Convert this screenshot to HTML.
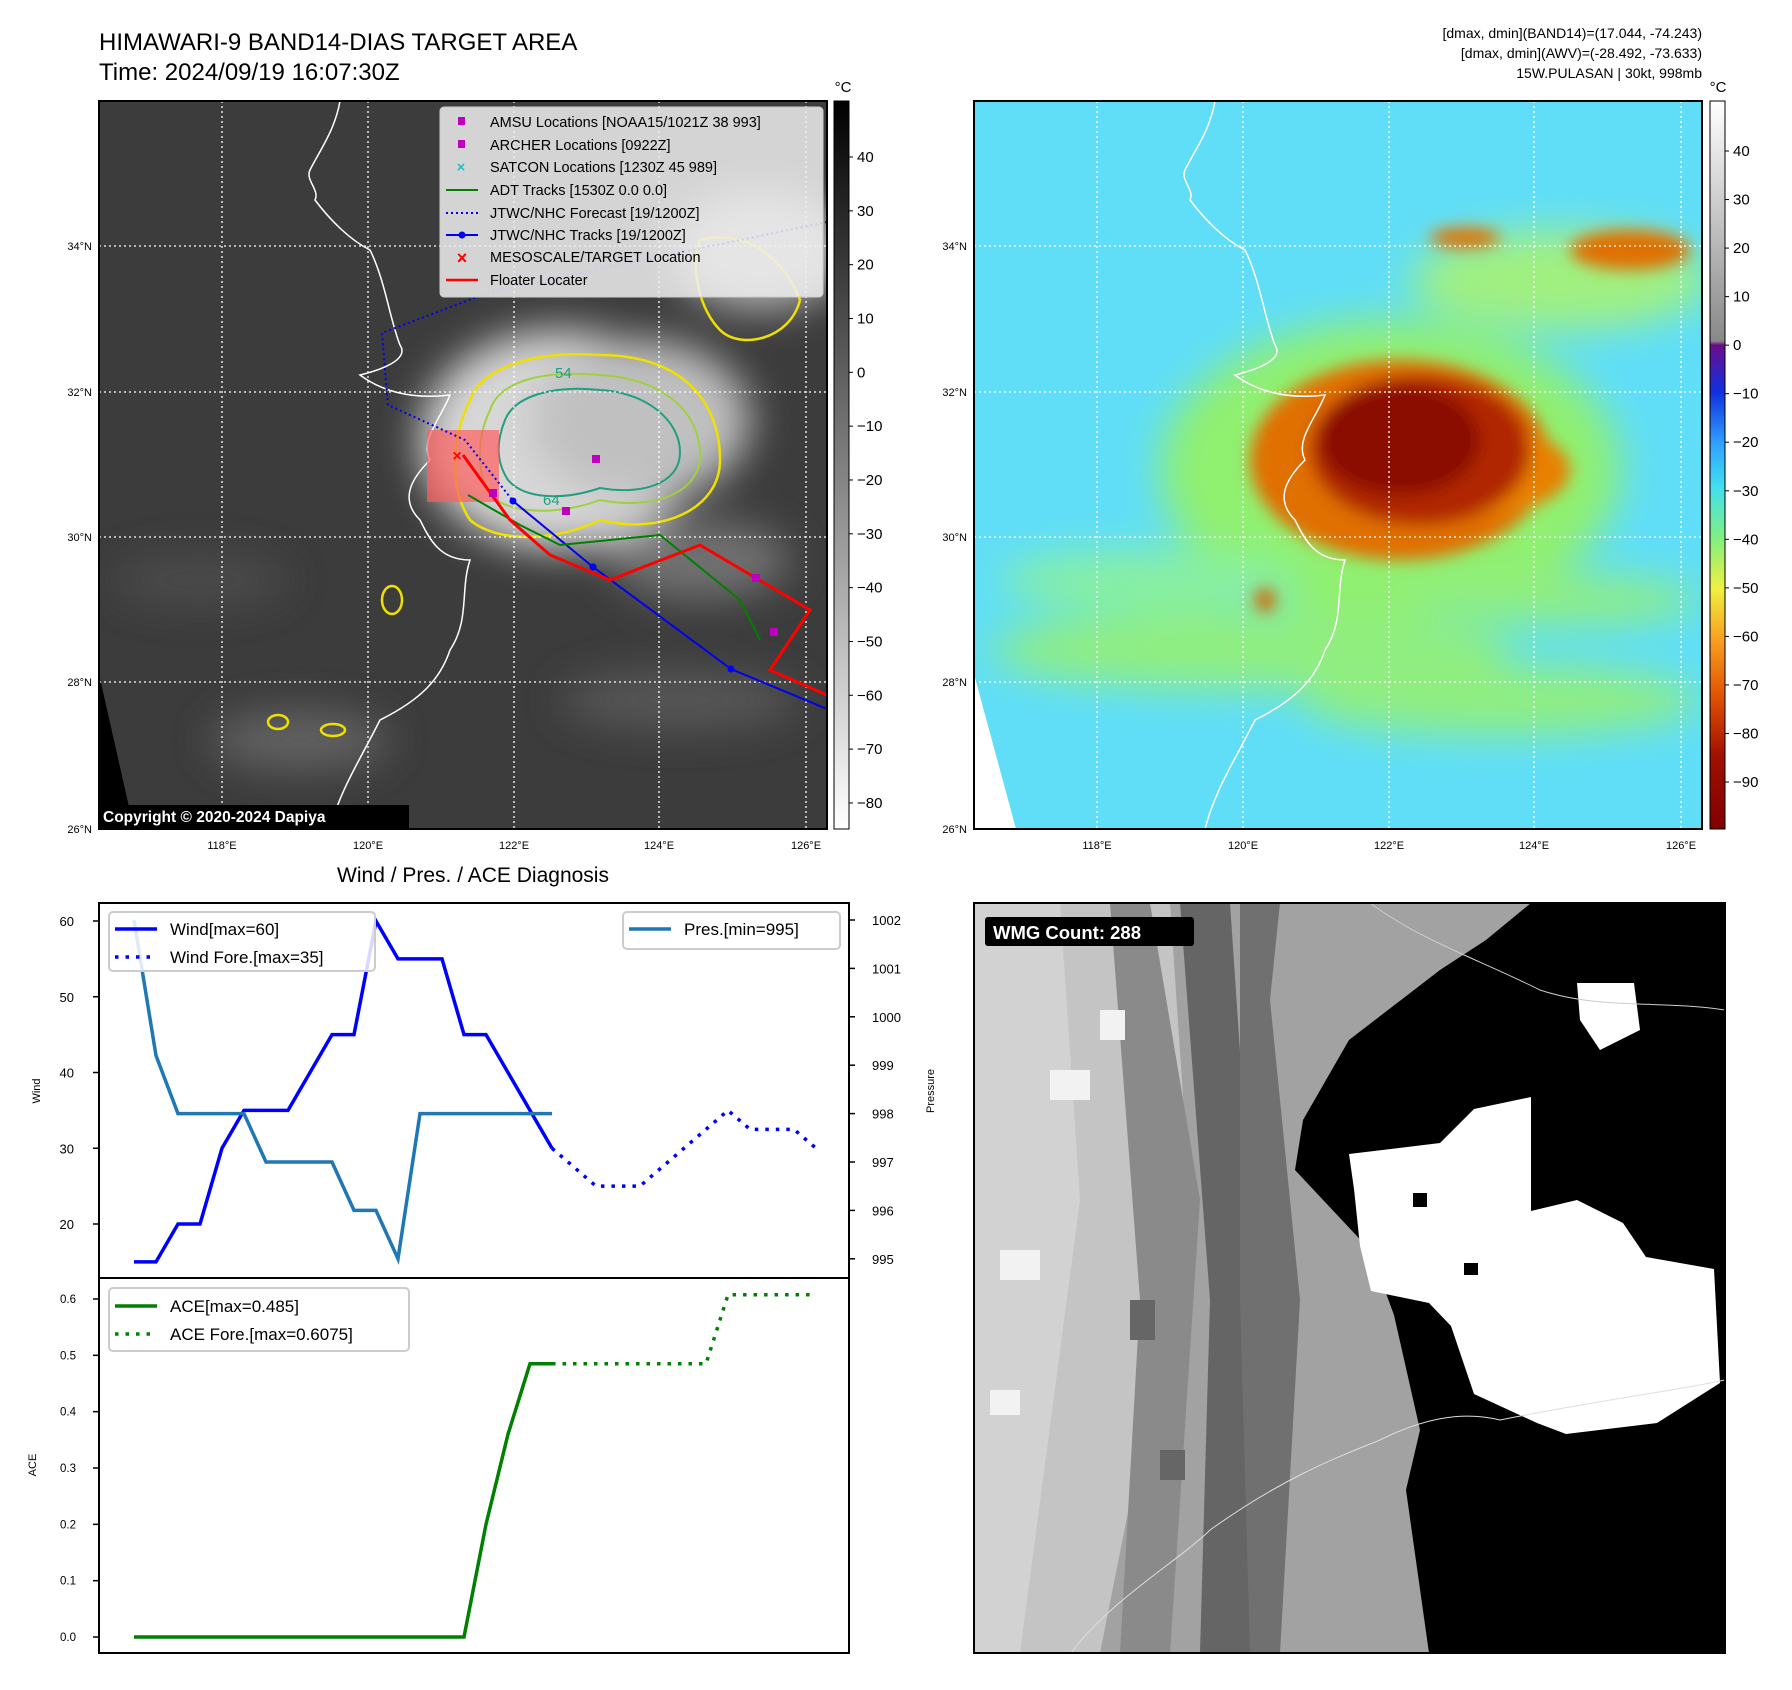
<!DOCTYPE html>
<html><head><meta charset="utf-8">
<style>
html,body{margin:0;padding:0;background:#fff;}
svg{display:block;font-family:"Liberation Sans","DejaVu Sans",sans-serif;}
</style></head>
<body>
<svg id="fig" width="1792" height="1690" viewBox="0 0 1792 1690" xmlns="http://www.w3.org/2000/svg">
<defs>
  <filter id="blur8" x="-20%" y="-20%" width="140%" height="140%"><feGaussianBlur stdDeviation="8"/></filter>
  <filter id="blur20" x="-30%" y="-30%" width="160%" height="160%"><feGaussianBlur stdDeviation="20"/></filter>
  <clipPath id="clipL"><rect x="99" y="101" width="728" height="728"/></clipPath>
  <clipPath id="clipR"><rect x="974" y="101" width="728" height="728"/></clipPath>
  <clipPath id="clipW"><rect x="974" y="903" width="751" height="750"/></clipPath>
  <linearGradient id="cbGray" x1="0" y1="0" x2="0" y2="1">
    <stop offset="0" stop-color="#000"/><stop offset="1" stop-color="#fff"/>
  </linearGradient>
  <linearGradient id="cbJet" x1="0" y1="0" x2="0" y2="1">
    <stop offset="0" stop-color="#ffffff"/><stop offset="0.33" stop-color="#888888"/>
    <stop offset="0.335" stop-color="#6a0d8a"/><stop offset="0.4" stop-color="#1030e0"/>
    <stop offset="0.47" stop-color="#30a0ff"/><stop offset="0.53" stop-color="#40e0f0"/>
    <stop offset="0.6" stop-color="#80f080"/><stop offset="0.67" stop-color="#f0f040"/>
    <stop offset="0.74" stop-color="#f8a020"/><stop offset="0.82" stop-color="#e05000"/>
    <stop offset="0.9" stop-color="#a01000"/><stop offset="1" stop-color="#800000"/>
  </linearGradient>
</defs>

<text x="99" y="50" font-size="24">HIMAWARI-9 BAND14-DIAS TARGET AREA</text>
<text x="99" y="80" font-size="24">Time: 2024/09/19 16:07:30Z</text>
<g font-size="14" text-anchor="end">
  <text x="1702" y="38">[dmax, dmin](BAND14)=(17.044, -74.243)</text>
  <text x="1702" y="58">[dmax, dmin](AWV)=(-28.492, -73.633)</text>
  <text x="1702" y="78">15W.PULASAN | 30kt, 998mb</text>
</g>

<g clip-path="url(#clipL)">
  <rect x="99" y="101" width="728" height="728" fill="#3c3c3c"/>
  <g filter="url(#blur20)" opacity="0.9">
    <ellipse cx="560" cy="440" rx="140" ry="110" fill="#e8e8e8"/>
    <ellipse cx="640" cy="420" rx="110" ry="80" fill="#cfcfcf"/>
    <ellipse cx="760" cy="250" rx="90" ry="60" fill="#bdbdbd"/>
    <ellipse cx="700" cy="560" rx="90" ry="40" fill="#777"/>
    <ellipse cx="300" cy="740" rx="90" ry="30" fill="#666"/>
    <ellipse cx="680" cy="700" rx="120" ry="30" fill="#5a5a5a"/>
    <ellipse cx="200" cy="580" rx="90" ry="25" fill="#4e4e4e"/>
  </g>
  <polygon points="99,674 134,829 99,829" fill="#000"/>
  <path d="M470,400 C480,370 530,350 600,355 C680,355 720,400 720,460 C720,510 660,535 600,520 C560,540 500,545 470,520 C450,490 450,440 470,400Z" fill="none" stroke="#f0e000" stroke-width="2.5"/>
  <path d="M490,410 C500,380 545,370 600,375 C660,378 700,410 700,455 C700,495 650,510 600,500 C560,515 510,515 490,495 C475,470 478,435 490,410Z" fill="none" stroke="#a0d040" stroke-width="2"/>
  <path d="M505,420 C515,395 555,385 600,390 C645,392 680,420 680,452 C680,485 640,495 600,488 C565,500 525,500 508,480 C495,460 497,440 505,420Z" fill="none" stroke="#20a080" stroke-width="2"/>
  <path d="M700,240 C740,230 780,250 800,300 C790,340 740,350 720,330 C700,310 690,270 700,240Z" fill="none" stroke="#f0e000" stroke-width="2.5"/>
  <ellipse cx="392" cy="600" rx="10" ry="14" fill="none" stroke="#f0e000" stroke-width="2.5"/>
  <ellipse cx="278" cy="722" rx="10" ry="7" fill="none" stroke="#f0e000" stroke-width="2.5"/>
  <ellipse cx="333" cy="730" rx="12" ry="6" fill="none" stroke="#f0e000" stroke-width="2.5"/>
  <text x="555" y="378" font-size="15" fill="#20a080">54</text>
  <text x="543" y="505" font-size="15" fill="#20a080">64</text>
  <path d="M340,101 C335,130 320,150 310,170 C305,180 320,190 315,200 C330,220 350,240 370,250 C385,280 390,320 400,345 C410,360 380,370 360,375 C380,390 410,400 450,395 C440,420 420,440 430,460 C410,480 400,500 420,520 C430,540 440,560 470,560 C460,590 470,620 450,650 C440,680 420,700 380,720 C360,760 340,790 330,829" fill="none" stroke="#fff" stroke-width="1.5"/>
  <g stroke="#fff" stroke-width="1.3" stroke-dasharray="2,3">
    <line x1="222" y1="101" x2="222" y2="829"/><line x1="368" y1="101" x2="368" y2="829"/>
    <line x1="514" y1="101" x2="514" y2="829"/><line x1="659" y1="101" x2="659" y2="829"/>
    <line x1="806" y1="101" x2="806" y2="829"/>
    <line x1="99" y1="246" x2="827" y2="246"/><line x1="99" y1="392" x2="827" y2="392"/>
    <line x1="99" y1="537" x2="827" y2="537"/><line x1="99" y1="682" x2="827" y2="682"/>
  </g>
  <rect x="427" y="430" width="72" height="72" fill="#ff6060" opacity="0.7"/>
  <polyline points="827,222 490,292 382,333 388,405 465,440 513,501" fill="none" stroke="#0000ee" stroke-width="2" stroke-dasharray="2,3"/>
  <polyline points="513,501 593,567 731,669 827,709" fill="none" stroke="#0000ee" stroke-width="2"/>
  <g fill="#0000ee"><circle cx="513" cy="501" r="3.5"/><circle cx="593" cy="567" r="3.5"/><circle cx="731" cy="669" r="3.5"/></g>
  <polyline points="468,495 520,525 560,545 660,535 740,600 760,640" fill="none" stroke="#008000" stroke-width="2"/>
  <polyline points="463,455 510,520 550,555 610,580 700,545 810,610 770,670 827,695" fill="none" stroke="#ff0000" stroke-width="3"/>
  <g fill="#c000c0"><rect x="592" y="455" width="8" height="8"/><rect x="489" y="489" width="8" height="8"/><rect x="562" y="507" width="8" height="8"/><rect x="752" y="574" width="8" height="8"/><rect x="770" y="628" width="8" height="8"/></g>
  <text x="457" y="461" font-size="16" fill="#ff0000" font-weight="bold" text-anchor="middle">×</text>
  <g>
    <rect x="440" y="107" width="383" height="190" rx="4" fill="#eee" fill-opacity="0.85" stroke="#ccc"/>
    <g font-size="14.5" fill="#000">
      <rect x="458" y="117" width="7" height="8" fill="#c000c0"/><text x="490" y="127">AMSU Locations [NOAA15/1021Z 38 993]</text>
      <rect x="458" y="140" width="7" height="8" fill="#c000c0"/><text x="490" y="150">ARCHER Locations [0922Z]</text>
      <text x="461" y="172" fill="#20c0c0" font-weight="bold" text-anchor="middle">×</text><text x="490" y="172">SATCON Locations [1230Z 45 989]</text>
      <line x1="446" y1="190" x2="478" y2="190" stroke="#008000" stroke-width="2"/><text x="490" y="195">ADT Tracks [1530Z 0.0 0.0]</text>
      <line x1="446" y1="213" x2="478" y2="213" stroke="#0000ee" stroke-width="2" stroke-dasharray="2,3"/><text x="490" y="218">JTWC/NHC Forecast [19/1200Z]</text>
      <line x1="446" y1="235" x2="478" y2="235" stroke="#0000ee" stroke-width="2"/><circle cx="462" cy="235" r="3.5" fill="#0000ee"/><text x="490" y="240">JTWC/NHC Tracks [19/1200Z]</text>
      <text x="462" y="264" fill="#ff0000" font-weight="bold" text-anchor="middle" font-size="18">×</text><text x="490" y="262">MESOSCALE/TARGET Location</text>
      <line x1="446" y1="280" x2="478" y2="280" stroke="#ff0000" stroke-width="2.5"/><text x="490" y="285">Floater Locater</text>
    </g>
  </g>
  <rect x="99" y="805" width="310" height="23" fill="#000"/>
  <text x="103" y="822" font-size="15.5" font-weight="bold" fill="#fff">Copyright © 2020-2024 Dapiya</text>
</g>
<rect x="99" y="101" width="728" height="728" fill="none" stroke="#000" stroke-width="2"/>

<g clip-path="url(#clipR)">
  <rect x="974" y="101" width="728" height="728" fill="#60def8"/>
  <g filter="url(#blur20)">
    <ellipse cx="1390" cy="470" rx="230" ry="150" fill="#90f070"/>
    <ellipse cx="1560" cy="280" rx="150" ry="50" fill="#a0f080"/>
    <ellipse cx="1250" cy="650" rx="260" ry="40" fill="#90ee80"/>
    <ellipse cx="1150" cy="580" rx="150" ry="30" fill="#88f0a0"/>
    <ellipse cx="1500" cy="700" rx="200" ry="35" fill="#90ee80"/>
    <ellipse cx="1550" cy="600" rx="150" ry="25" fill="#90ee80"/>
  </g>
  <g filter="url(#blur8)">
    <ellipse cx="1400" cy="460" rx="150" ry="100" fill="#e07000"/>
    <ellipse cx="1480" cy="470" rx="90" ry="45" fill="#e88000"/>
    <ellipse cx="1420" cy="450" rx="110" ry="75" fill="#b02800"/>
    <ellipse cx="1400" cy="440" rx="80" ry="55" fill="#8a1000"/>
    <ellipse cx="1630" cy="250" rx="60" ry="20" fill="#e07000"/>
    <ellipse cx="1465" cy="238" rx="35" ry="10" fill="#e07000"/>
    <ellipse cx="1265" cy="600" rx="10" ry="12" fill="#d06000"/>
  </g>
  <path d="M1215,101 C1210,130 1195,150 1185,170 C1180,180 1195,190 1190,200 C1205,220 1225,240 1245,250 C1260,280 1265,320 1275,345 C1285,360 1255,370 1235,375 C1255,390 1285,400 1325,395 C1315,420 1295,440 1305,460 C1285,480 1275,500 1295,520 C1305,540 1315,560 1345,560 C1335,590 1345,620 1325,650 C1315,680 1295,700 1255,720 C1235,760 1215,790 1205,829" fill="none" stroke="#fff" stroke-width="1.5"/>
  <polygon points="974,674 1016,829 974,829" fill="#fff"/>
  <g stroke="#fff" stroke-width="1.3" stroke-dasharray="2,3">
    <line x1="1097" y1="101" x2="1097" y2="829"/><line x1="1243" y1="101" x2="1243" y2="829"/>
    <line x1="1389" y1="101" x2="1389" y2="829"/><line x1="1534" y1="101" x2="1534" y2="829"/>
    <line x1="1681" y1="101" x2="1681" y2="829"/>
    <line x1="974" y1="246" x2="1702" y2="246"/><line x1="974" y1="392" x2="1702" y2="392"/>
    <line x1="974" y1="537" x2="1702" y2="537"/><line x1="974" y1="682" x2="1702" y2="682"/>
  </g>
</g>
<rect x="974" y="101" width="728" height="728" fill="none" stroke="#000" stroke-width="2"/>

<g font-size="11">
  <g text-anchor="end"><text x="92" y="250">34°N</text><text x="92" y="396">32°N</text><text x="92" y="541">30°N</text><text x="92" y="686">28°N</text><text x="92" y="833">26°N</text>
  <text x="967" y="250">34°N</text><text x="967" y="396">32°N</text><text x="967" y="541">30°N</text><text x="967" y="686">28°N</text><text x="967" y="833">26°N</text></g>
  <g text-anchor="middle"><text x="222" y="849">118°E</text><text x="368" y="849">120°E</text><text x="514" y="849">122°E</text><text x="659" y="849">124°E</text><text x="806" y="849">126°E</text>
  <text x="1097" y="849">118°E</text><text x="1243" y="849">120°E</text><text x="1389" y="849">122°E</text><text x="1534" y="849">124°E</text><text x="1681" y="849">126°E</text></g>
</g>

<g>
  <rect x="834" y="101" width="15" height="728" fill="url(#cbGray)" stroke="#000"/>
  <text x="843" y="92" font-size="15" text-anchor="middle">°C</text>
  <g id="cbL" font-size="15"></g>
</g>
<g>
  <rect x="1710" y="101" width="15" height="728" fill="url(#cbJet)" stroke="#000"/>
  <text x="1718" y="92" font-size="15" text-anchor="middle">°C</text>
  <g id="cbR" font-size="15"></g>
</g>

<text x="473" y="882" font-size="21" text-anchor="middle">Wind / Pres. / ACE Diagnosis</text>
<g id="windChart"></g>
<g id="aceChart"></g>

<g clip-path="url(#clipW)">
  <rect x="974" y="903" width="751" height="750" fill="#a2a2a2"/>
  <polygon points="974,903 1170,903 1190,1200 1100,1653 974,1653" fill="#c4c4c4"/>
  <polygon points="974,903 1060,903 1080,1200 1020,1653 974,1653" fill="#d2d2d2"/>
  <polygon points="1110,903 1150,903 1200,1200 1170,1653 1120,1653 1140,1300" fill="#8a8a8a"/>
  <polygon points="1180,903 1230,903 1250,1200 1260,1653 1200,1653 1210,1300" fill="#5a5a5a" opacity="0.85"/>
  <polygon points="1240,903 1280,903 1270,1000 1300,1300 1280,1653 1250,1653 1240,1300" fill="#707070"/>
  <g fill="#f2f2f2"><rect x="1000" y="1250" width="40" height="30"/><rect x="990" y="1390" width="30" height="25"/><rect x="1050" y="1070" width="40" height="30"/><rect x="1100" y="1010" width="25" height="30"/></g>
  <g fill="#666"><rect x="1130" y="1300" width="25" height="40"/><rect x="1160" y="1450" width="25" height="30"/></g>
  <polygon points="1531,903 1725,903 1725,1653 1429,1653 1406,1490 1420,1430 1394,1315 1370,1250 1295,1170 1303,1120 1349,1040 1440,970 1486,940" fill="#000"/>
  <polygon points="1349,1154 1440,1143 1474,1109 1531,1097 1531,1211 1577,1200 1623,1223 1646,1257 1714,1269 1720,1383 1657,1423 1566,1434 1537,1423 1474,1394 1451,1326 1429,1303 1371,1291 1360,1246 1354,1189" fill="#fff"/>
  <polygon points="1577,983 1634,983 1640,1030 1600,1050 1580,1020" fill="#fff"/>
  <rect x="1413" y="1193" width="14" height="14" fill="#000"/>
  <rect x="1464" y="1263" width="14" height="12" fill="#000"/>
  <path d="M1370,903 C1420,940 1480,960 1540,990 C1600,1010 1660,1000 1725,1010" fill="none" stroke="#ccc" stroke-width="1"/>
  <path d="M1071,1653 C1110,1600 1180,1560 1210,1530 C1280,1480 1330,1460 1380,1440 C1420,1420 1460,1410 1500,1420 C1600,1400 1680,1390 1725,1380" fill="none" stroke="#ddd" stroke-width="1"/>
  <rect x="985" y="917" width="209" height="29" rx="3" fill="#000"/>
  <text x="993" y="939" font-size="18.5" font-weight="bold" fill="#fff">WMG Count: 288</text>
</g>
<rect x="974" y="903" width="751" height="750" fill="none" stroke="#000" stroke-width="2"/>
</svg>

<script>
const windObs = [15,15,20,20,30,35,35,35,40,45,45,60,55,55,55,45,45,40,35,30];
const windFore = [30,27.5,25,25,25,27.5,30,32.5,35,32.5,32.5,32.5,30];
const presObs = [1002,999.2,998,998,998,998,997,997,997,997,996,996,995,998,998,998,998,998,998,998];
const aceObs = [0,0,0,0,0,0,0,0,0,0,0,0,0,0,0,0,0.2,0.36,0.485,0.485];
const aceFore = [0.485,0.485,0.485,0.485,0.485,0.485,0.485,0.485,0.6075,0.6075,0.6075,0.6075,0.6075];
const windTicks = [20,30,40,50,60];
const presTicks = [995,996,997,998,999,1000,1001,1002];
const aceTicks = [0,0.1,0.2,0.3,0.4,0.5,0.6];
const cbLTicks = [40,30,20,10,0,-10,-20,-30,-40,-50,-60,-70,-80];
const cbRTicks = [40,30,20,10,0,-10,-20,-30,-40,-50,-60,-70,-80,-90];
const foreStart = 19;

const NS = 'http://www.w3.org/2000/svg';
function mk(parent, tag, attrs, text){
  const e = document.createElementNS(NS, tag);
  for (const k in attrs) e.setAttribute(k, attrs[k]);
  if (text !== undefined) e.textContent = text;
  parent.appendChild(e); return e;
}
const xIdx = i => 134 + i*22.0;
const yWind = v => 921 + (60 - v)*7.575;
const yPres = p => 920 + (1002 - p)*48.4;
const yAce = a => 1637 - (a/0.6)*338;

const cbL = document.getElementById('cbL');
cbLTicks.forEach(t => {
  const y = 157 + (40 - t)*5.383;
  mk(cbL,'line',{x1:849,y1:y,x2:853,y2:y,stroke:'#000'});
  const tx = mk(cbL,'text',{x:857,y:y+5},String(t).replace('-','−'));
  
  
});
const cbR = document.getElementById('cbR');
cbRTicks.forEach(t => {
  const y = 151 + (40 - t)*4.854;
  mk(cbR,'line',{x1:1725,y1:y,x2:1729,y2:y,stroke:'#000'});
  const tx = mk(cbR,'text',{x:1733,y:y+5},String(t).replace('-','−'));
  
  
});

const wc = document.getElementById('windChart');
mk(wc,'rect',{x:99,y:903,width:750,height:375,fill:'#fff'});
windTicks.forEach(t => {
  const y = yWind(t);
  mk(wc,'line',{x1:93,y1:y,x2:99,y2:y,stroke:'#000','stroke-width':1.5});
  mk(wc,'text',{x:74,y:y+5,'font-size':13,'text-anchor':'end'},t);
});
presTicks.forEach(t => {
  const y = yPres(t);
  mk(wc,'line',{x1:849,y1:y,x2:855,y2:y,stroke:'#000','stroke-width':1.5});
  mk(wc,'text',{x:872,y:y+5,'font-size':13},t);
});
mk(wc,'text',{x:0,y:0,'font-size':11,'text-anchor':'middle',transform:'translate(40,1091) rotate(-90)'},'Wind');
mk(wc,'text',{x:0,y:0,'font-size':11,'text-anchor':'middle',transform:'translate(934,1091) rotate(-90)'},'Pressure');

const wl = mk(wc,'polyline',{points:windObs.map((v,i)=>xIdx(i)+','+yWind(v)).join(' '),fill:'none',stroke:'#0000ff','stroke-width':3.5});


const wf = mk(wc,'polyline',{points:windFore.map((v,i)=>xIdx(i+foreStart)+','+yWind(v)).join(' '),fill:'none',stroke:'#0000ff','stroke-width':3.5,'stroke-dasharray':'3.5,7'});


const pl = mk(wc,'polyline',{points:presObs.map((v,i)=>xIdx(i)+','+yPres(v)).join(' '),fill:'none',stroke:'#1f77b4','stroke-width':3.5});



const wlg = mk(wc,'g',{});


mk(wlg,'rect',{x:109,y:912,width:266,height:59,rx:4,fill:'#fff','fill-opacity':0.85,stroke:'#ccc','stroke-width':2});
mk(wlg,'line',{x1:115,y1:929,x2:157,y2:929,stroke:'#0000ff','stroke-width':3.5});
mk(wlg,'text',{x:170,y:935,'font-size':17},'Wind[max=60]');
mk(wlg,'line',{x1:115,y1:957,x2:157,y2:957,stroke:'#0000ff','stroke-width':3.5,'stroke-dasharray':'3.5,7'});
mk(wlg,'text',{x:170,y:963,'font-size':17},'Wind Fore.[max=35]');
const plg = mk(wc,'g',{});


mk(plg,'rect',{x:623,y:912,width:217,height:37,rx:4,fill:'#fff','fill-opacity':0.85,stroke:'#ccc','stroke-width':2});
mk(plg,'line',{x1:629,y1:929,x2:671,y2:929,stroke:'#1f77b4','stroke-width':3.5});
mk(plg,'text',{x:684,y:935,'font-size':17},'Pres.[min=995]');
mk(wc,'rect',{x:99,y:903,width:750,height:375,fill:'none',stroke:'#000','stroke-width':2});

const ac = document.getElementById('aceChart');
aceTicks.forEach(t => {
  const y = yAce(t);
  mk(ac,'line',{x1:93,y1:y,x2:99,y2:y,stroke:'#000','stroke-width':1.5});
  mk(ac,'text',{x:76,y:y+4,'font-size':11.5,'text-anchor':'end'},t.toFixed(1));
});
mk(ac,'text',{x:0,y:0,'font-size':11,'text-anchor':'middle',transform:'translate(36,1465) rotate(-90)'},'ACE');
const al = mk(ac,'polyline',{points:aceObs.map((v,i)=>xIdx(i)+','+yAce(v)).join(' '),fill:'none',stroke:'#008000','stroke-width':3.5});


const af = mk(ac,'polyline',{points:aceFore.map((v,i)=>xIdx(i+foreStart)+','+yAce(v)).join(' '),fill:'none',stroke:'#008000','stroke-width':3.5,'stroke-dasharray':'3.5,7'});


const alg = mk(ac,'g',{});


mk(alg,'rect',{x:109,y:1288,width:300,height:63,rx:4,fill:'#fff','fill-opacity':0.85,stroke:'#ccc','stroke-width':2});
mk(alg,'line',{x1:115,y1:1306,x2:157,y2:1306,stroke:'#008000','stroke-width':3.5});
mk(alg,'text',{x:170,y:1312,'font-size':17},'ACE[max=0.485]');
mk(alg,'line',{x1:115,y1:1334,x2:157,y2:1334,stroke:'#008000','stroke-width':3.5,'stroke-dasharray':'3.5,7'});
mk(alg,'text',{x:170,y:1340,'font-size':17},'ACE Fore.[max=0.6075]');
mk(ac,'rect',{x:99,y:1278,width:750,height:375,fill:'none',stroke:'#000','stroke-width':2});
</script>
</body></html>
